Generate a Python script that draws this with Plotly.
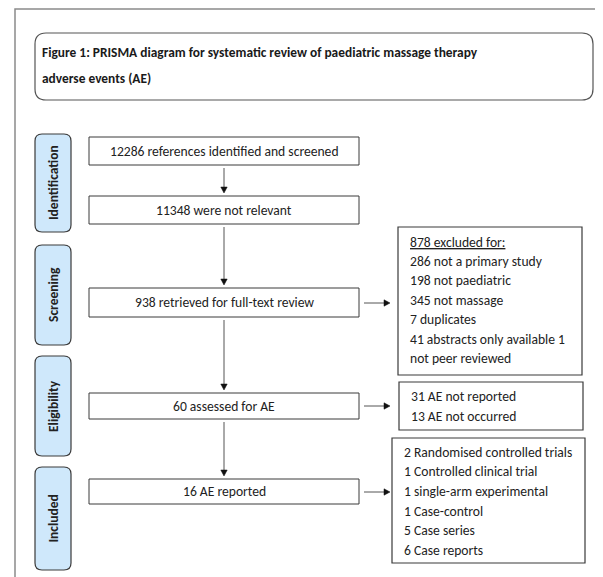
import plotly.graph_objects as go

W, H = 603, 577
OFF = 8  # default page margin of the html body

# ---- content ----
title_lines = [
    "Figure 1: PRISMA diagram for systematic review of paediatric massage therapy",
    "adverse events (AE)",
]
stage_labels = ["Identification", "Screening", "Eligibility", "Included"]
main_counts = [12286, 11348, 938, 60, 16]
main_texts = [
    "references identified and screened",
    "were not relevant",
    "retrieved for full-text review",
    "assessed for AE",
    "AE reported",
]
excluded_header = "878 excluded for:"
excluded_lines = [
    "286 not a primary study",
    "198 not paediatric",
    "345 not massage",
    "7 duplicates",
    "41 abstracts only available 1",
    "not peer reviewed",
]
ae_lines = ["31 AE not reported", "13 AE not occurred"]
design_lines = [
    "2 Randomised controlled trials",
    "1 Controlled clinical trial",
    "1 single-arm experimental",
    "1 Case-control",
    "5 Case series",
    "6 Case reports",
]

# ---- layout geometry (style/positions) ----
FONT = "Carlito, Calibri, Lato, sans-serif"
TXT = 13.6
BOX_LINE = "#3a3a3a"
main_x0, main_x1 = 89, 359
main_y = [(137, 165), (196, 224), (288, 317), (393, 419), (479, 504)]
stage_x0, stage_x1 = 35, 71
stage_y = [(134, 232), (245, 345), (356, 456), (467, 570)]
side_boxes = [(398, 582, 227, 375), (399, 583, 382, 430), (392, 585, 438, 563)]
side_text_x = [408, 409, 402]
side_first_y = [242, 396, 452]
side_step = [19.4, 20, 19.7]
h_arrow_y = [303, 406, 492]

shapes = []
annotations = []


def rounded(x0, y0, x1, y1, r):
    return (f"M {x0+r},{y0} L {x1-r},{y0} Q {x1},{y0} {x1},{y0+r} "
            f"L {x1},{y1-r} Q {x1},{y1} {x1-r},{y1} L {x0+r},{y1} "
            f"Q {x0},{y1} {x0},{y1-r} L {x0},{y0+r} Q {x0},{y0} {x0+r},{y0} Z")


# outer frame (left and top edges)
shapes.append(dict(type="path", path=f"M 15,{H+5} L 15,9 L {W+5},9",
                   line=dict(color="#8a8a8a", width=1.5)))

# title box
shapes.append(dict(type="path", path=rounded(35, 33, 593, 100, 11),
                   line=dict(color="#555555", width=1.2), fillcolor="rgba(0,0,0,0)"))
for i, t in enumerate(title_lines):
    annotations.append(dict(x=40, y=52 + i * 26, text=f"<b>{t}</b>", showarrow=False,
                            xanchor="left", yanchor="middle",
                            font=dict(family=FONT, size=13.4, color="#1a1a1a")))

# stage boxes
for (y0, y1), lab in zip(stage_y, stage_labels):
    shapes.append(dict(type="path", path=rounded(stage_x0, y0, stage_x1, y1, 7),
                       line=dict(color="#3a3a3a", width=1.2), fillcolor="#cfe8fb"))
    annotations.append(dict(x=(stage_x0 + stage_x1) / 2, y=(y0 + y1) / 2,
                            text=f"<b>{lab}</b>", showarrow=False, textangle=-90,
                            xanchor="center", yanchor="middle",
                            font=dict(family=FONT, size=13.5, color="#222222")))

# main boxes
cx = (main_x0 + main_x1) / 2
for (y0, y1), n, t in zip(main_y, main_counts, main_texts):
    shapes.append(dict(type="rect", x0=main_x0, x1=main_x1, y0=y0, y1=y1,
                       line=dict(color=BOX_LINE, width=1), fillcolor="white"))
    annotations.append(dict(x=cx, y=(y0 + y1) / 2, text=f"{n} {t}", showarrow=False,
                            xanchor="center", yanchor="middle",
                            font=dict(family=FONT, size=TXT, color="#222222")))

# vertical arrows
for (a0, a1), (b0, b1) in zip(main_y[:-1], main_y[1:]):
    ys, ye = a1 + 3, b0 - 3
    shapes.append(dict(type="line", x0=cx, x1=cx, y0=ys, y1=ye - 5,
                       line=dict(color="#555555", width=1)))
    shapes.append(dict(type="path",
                       path=f"M {cx-3.2},{ye-6} L {cx+3.2},{ye-6} L {cx},{ye} Z",
                       line=dict(color="#111111", width=0.5), fillcolor="#111111"))

# horizontal arrows
for y in h_arrow_y:
    shapes.append(dict(type="line", x0=364, x1=385, y0=y, y1=y,
                       line=dict(color="#555555", width=1)))
    shapes.append(dict(type="path", path=f"M 384,{y-3.2} L 384,{y+3.2} L 390,{y} Z",
                       line=dict(color="#111111", width=0.5), fillcolor="#111111"))

# side boxes
for (x0, x1, y0, y1) in side_boxes:
    shapes.append(dict(type="rect", x0=x0, x1=x1, y0=y0, y1=y1,
                       line=dict(color=BOX_LINE, width=1.2), fillcolor="white"))

side_texts = [["<u>" + excluded_header + "</u>"] + excluded_lines, ae_lines, design_lines]
for k, lines in enumerate(side_texts):
    for i, t in enumerate(lines):
        annotations.append(dict(x=side_text_x[k], y=side_first_y[k] + i * side_step[k],
                                text=t, showarrow=False, xanchor="left", yanchor="middle",
                                font=dict(family=FONT, size=TXT, color="#222222")))

fig = go.Figure()
fig.update_layout(
    width=W - OFF, height=H - OFF, margin=dict(l=0, r=0, t=0, b=0),
    paper_bgcolor="white", plot_bgcolor="white",
    xaxis=dict(range=[OFF, W], visible=False, fixedrange=True),
    yaxis=dict(range=[H, OFF], visible=False, fixedrange=True),
    shapes=shapes, annotations=annotations, showlegend=False,
)
fig.write_html("out.html")
